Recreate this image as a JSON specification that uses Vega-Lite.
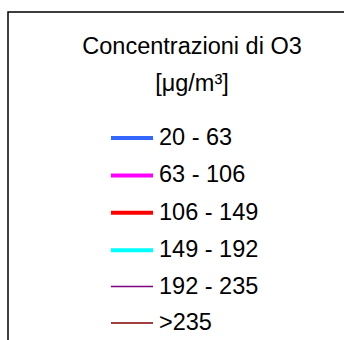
{
  "$schema": "https://vega.github.io/schema/vega-lite/v6.json",
  "width": 356,
  "height": 348,
  "autosize": {"type": "none"},
  "padding": {"left": 8, "top": 12, "right": -20, "bottom": -20},
  "background": "white",
  "view": {"stroke": "black", "strokeWidth": 1.5, "fill": "white"},
  "config": {
    "view": {"stroke": "black", "strokeWidth": 1.5},
    "font": "Liberation Sans"
  },
  "title": {
    "text": ["Concentrazioni di O3", "[μg/m³]"],
    "fontSize": 23.5,
    "fontWeight": "normal",
    "color": "black",
    "anchor": "middle",
    "frame": "group",
    "baseline": "alphabetic",
    "offset": 0,
    "dx": 6,
    "dy": 102,
    "lineHeight": 37
  },
  "data": {
    "values": [
      {"classe": "20 - 63"},
      {"classe": "63 - 106"},
      {"classe": "106 - 149"},
      {"classe": "149 - 192"},
      {"classe": "192 - 235"},
      {"classe": ">235"}
    ]
  },
  "mark": {"type": "line"},
  "encoding": {
    "color": {
      "field": "classe",
      "type": "nominal",
      "scale": {
        "domain": ["20 - 63", "63 - 106", "106 - 149", "149 - 192", "192 - 235", ">235"],
        "range": ["#3366ff", "#ff00ff", "#ff0000", "#00ffff", "#800080", "#800000"]
      },
      "legend": {
        "title": null,
        "orient": "none",
        "legendX": 101,
        "legendY": 103,
        "padding": 0,
        "symbolType": "stroke",
        "symbolSize": 1764,
        "labelFontSize": 23.5,
        "labelColor": "black",
        "labelFont": "Liberation Sans",
        "labelOffset": 4,
        "rowPadding": 2.4
      }
    },
    "strokeWidth": {
      "field": "classe",
      "type": "nominal",
      "scale": {
        "type": "ordinal",
        "domain": ["20 - 63", "63 - 106", "106 - 149", "149 - 192", "192 - 235", ">235"],
        "range": [4, 4, 4, 4, 1.5, 1.5]
      },
      "legend": {
        "title": null,
        "orient": "none",
        "legendX": 101,
        "legendY": 103,
        "padding": 0,
        "symbolType": "stroke",
        "symbolSize": 1764,
        "labelFontSize": 23.5,
        "labelColor": "black",
        "labelFont": "Liberation Sans",
        "labelOffset": 4,
        "rowPadding": 2.4
      }
    }
  }
}
